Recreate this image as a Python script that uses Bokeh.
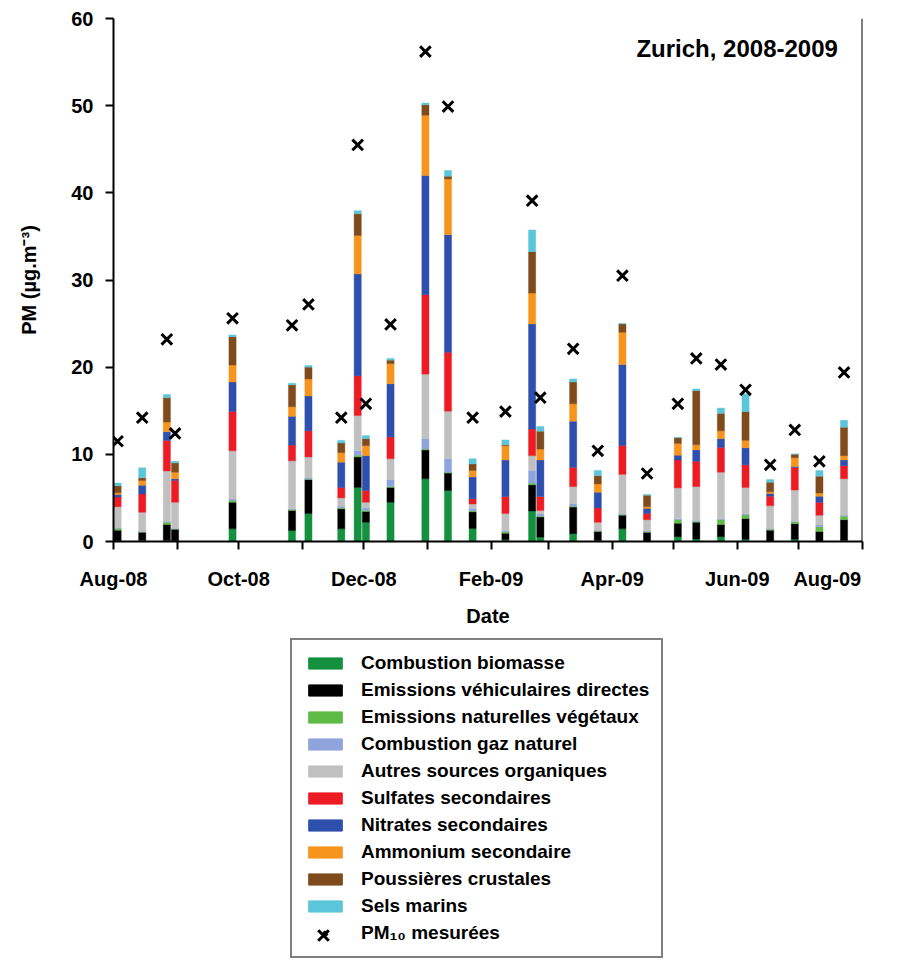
import pandas as pd
from bokeh.plotting import figure
from bokeh.layouts import column
from bokeh.models import (ColumnDataSource, FixedTicker, Legend, LegendItem, Label,
                          Range1d, Span)
from bokeh.embed import file_html
from bokeh.resources import INLINE

# ---------------- data ----------------
dates = ["2008-08-03", "2008-08-15", "2008-08-27", "2008-08-31", "2008-09-28",
         "2008-10-27", "2008-11-04", "2008-11-20", "2008-11-28", "2008-12-02",
         "2008-12-14", "2008-12-31", "2009-01-11", "2009-01-23", "2009-02-08",
         "2009-02-21", "2009-02-25", "2009-03-13", "2009-03-25", "2009-04-06",
         "2009-04-18", "2009-05-03", "2009-05-12", "2009-05-24", "2009-06-05",
         "2009-06-17", "2009-06-29", "2009-07-11", "2009-07-23"]

combustion_biomasse = [0.1, 0.15, 0.15, 0.1, 1.45, 1.26, 3.2, 1.45, 6.2, 2.2, 4.5, 7.2, 5.85, 1.5, 0.2,
                       3.5, 0.5, 0.9, 0.15, 1.45, 0.05, 0.55, 0.3, 0.55, 0.25, 0.05, 0.25, 0.05, 0.15]
emissions_vehiculaires = [1.2, 0.9, 1.8, 1.3, 3.05, 2.3, 3.9, 2.3, 3.5, 1.25, 1.7, 3.3, 2.0, 1.9, 0.75,
                          3.0, 2.3, 3.05, 1.0, 1.55, 1.0, 1.55, 1.9, 1.4, 2.4, 1.25, 1.8, 1.1, 2.35]
emissions_vegetaux = [0.2, 0.05, 0.25, 0.05, 0.2, 0.1, 0.05, 0.1, 0.2, 0.1, 0.1, 0.1, 0.1, 0.1, 0.15,
                      0.2, 0.1, 0.1, 0.05, 0.1, 0.05, 0.4, 0.1, 0.55, 0.4, 0.1, 0.2, 0.55, 0.4]
combustion_gaz = [0.1, 0.05, 0.1, 0.05, 0.2, 0.1, 0.15, 0.2, 0.5, 0.3, 0.8, 1.2, 1.55, 0.3, 0.1,
                  1.45, 0.25, 0.3, 0.1, 0.1, 0.1, 0.1, 0.1, 0.1, 0.1, 0.1, 0.05, 0.2, 0.1]
autres_organiques = [2.4, 2.2, 5.8, 3.0, 5.5, 5.5, 2.4, 0.95, 4.05, 0.65, 2.4, 7.4, 5.45, 0.5, 2.0,
                     1.7, 0.4, 1.95, 0.9, 4.5, 1.3, 3.55, 3.9, 5.35, 3.05, 2.6, 3.6, 1.1, 4.2]
sulfates = [1.1, 2.1, 3.5, 2.5, 4.5, 1.8, 3.0, 1.2, 4.55, 1.35, 2.5, 9.1, 6.75, 0.6, 1.95,
            3.05, 1.6, 2.2, 1.65, 3.3, 0.7, 3.2, 2.9, 2.85, 2.6, 1.1, 2.6, 1.5, 1.5]
nitrates = [0.3, 1.0, 1.0, 0.2, 3.4, 3.3, 4.0, 2.9, 11.7, 4.0, 6.1, 13.7, 13.5, 2.5, 4.2,
            12.05, 4.2, 5.3, 1.8, 9.3, 0.6, 0.55, 1.3, 1.0, 1.95, 0.3, 0.1, 0.7, 0.65]
ammonium = [0.2, 0.55, 1.1, 0.75, 1.95, 1.1, 1.95, 1.1, 4.4, 1.15, 2.3, 6.9, 6.4, 0.75, 1.65,
            3.55, 1.25, 2.0, 0.95, 3.7, 0.2, 1.35, 0.6, 0.9, 0.85, 0.2, 1.0, 0.35, 0.5]
poussieres = [0.8, 0.3, 2.8, 1.05, 3.25, 2.5, 1.35, 1.1, 2.5, 0.8, 0.4, 1.2, 0.3, 0.75, 0.1,
              4.75, 2.05, 2.5, 0.95, 0.95, 1.3, 0.65, 6.2, 2.0, 3.3, 1.1, 0.4, 1.95, 3.25]
sels_marins = [0.3, 1.15, 0.35, 0.2, 0.2, 0.2, 0.2, 0.3, 0.35, 0.35, 0.2, 0.2, 0.65, 0.6, 0.55,
               2.5, 0.55, 0.35, 0.6, 0.05, 0.1, 0.05, 0.2, 0.6, 2.05, 0.3, 0.05, 0.65, 0.8]
pm10 = [11.5, 14.2, 23.2, 12.4, 25.6, 24.8, 27.2, 14.2, 45.5, 15.8, 24.9, 56.2, 49.9, 14.2, 14.9,
        39.1, 16.5, 22.1, 10.4, 30.5, 7.8, 15.8, 21.0, 20.3, 17.4, 8.8, 12.8, 9.2, 19.4]

source_names = ["Combustion biomasse", "Emissions véhiculaires directes",
                "Emissions naturelles végétaux", "Combustion gaz naturel",
                "Autres sources organiques", "Sulfates secondaires",
                "Nitrates secondaires", "Ammonium secondaire",
                "Poussières crustales", "Sels marins"]
source_colors = ["#14903f", "#000000", "#5dbb46", "#8fa3dc", "#c0c0c0",
                 "#ed1c24", "#2e4fad", "#f7941d", "#7f4a1c", "#5bc6da"]
marker_label = "PM\u2081\u2080 mesurées"

month_starts = ["2008-08-01", "2008-09-01", "2008-10-01", "2008-11-01", "2008-12-01",
                "2009-01-01", "2009-02-01", "2009-03-01", "2009-04-01", "2009-05-01",
                "2009-06-01", "2009-07-01", "2009-08-01"]
major_labels = ["Aug-08", "Oct-08", "Dec-08", "Feb-09", "Apr-09", "Jun-09", "Aug-09"]
y_ticks = [0, 10, 20, 30, 40, 50, 60]
title_text = "Zurich, 2008-2009"

# ---------------- build ----------------
origin = pd.Timestamp("2008-08-01")
def day(s):
    return float((pd.Timestamp(s) - origin).days)

xdays = [day(d) for d in dates]
mdays = [day(d) for d in month_starts]
major_days = mdays[::2]
minor_days = mdays[1::2]

keys = ["c%d" % i for i in range(len(source_names))]
series = [combustion_biomasse, emissions_vehiculaires, emissions_vegetaux, combustion_gaz,
          autres_organiques, sulfates, nitrates, ammonium, poussieres, sels_marins]
data = {"x": xdays, "pm10": pm10}
for k, s in zip(keys, series):
    data[k] = s
src = ColumnDataSource(data)

FONT = "Liberation Sans"
W_LEFT, W_FRAME, W_RIGHT = 113, 749, 32

p = figure(frame_width=W_FRAME, frame_height=523,
           x_range=Range1d(mdays[0], mdays[-1]), y_range=Range1d(0, 60),
           output_backend="svg", toolbar_location=None,
           min_border_left=W_LEFT, min_border_top=18, min_border_right=W_RIGHT,
           min_border_bottom=95)
p.outline_line_color = None
p.xgrid.visible = False
p.ygrid.visible = False

p.vbar_stack(keys, x="x", width=3.5, source=src,
             fill_color=source_colors, line_color=source_colors, line_width=0.4)
p.scatter("x", "pm10", source=src, marker="x", size=15, line_width=3,
          line_color="black")

for ax in (p.xaxis[0], p.yaxis[0]):
    ax.axis_line_width = 2
    ax.axis_line_color = "black"
    ax.major_tick_line_width = 2
    ax.major_tick_line_color = "black"
    ax.major_tick_in = 0
    ax.major_tick_out = 8
    ax.major_label_text_font = FONT
    ax.major_label_text_font_style = "bold"
    ax.major_label_text_font_size = "20px"
    ax.major_label_text_color = "black"
    ax.axis_label_text_font = FONT
    ax.axis_label_text_font_style = "bold"
    ax.axis_label_text_font_size = "20px"
    ax.axis_label_text_color = "black"

p.yaxis.ticker = FixedTicker(ticks=y_ticks)
p.yaxis.minor_tick_line_color = None
p.yaxis.major_label_standoff = 12
p.yaxis.axis_label = "PM (µg.m\u207b\u00b3)"
p.yaxis.axis_label_standoff = 28

p.xaxis.ticker = FixedTicker(ticks=major_days, minor_ticks=minor_days)
p.xaxis.minor_tick_in = 0
p.xaxis.minor_tick_out = 8
p.xaxis.minor_tick_line_width = 2
p.xaxis.minor_tick_line_color = "black"
overrides = {d: lab for d, lab in zip(major_days, major_labels)}
# last label sits left of its tick, as in the original
overrides[major_days[-1]] = major_labels[-1] + "\u00a0" * 6
p.xaxis.major_label_overrides = overrides
p.xaxis.major_label_standoff = 18
p.xaxis.axis_label = "Date"
p.xaxis.axis_label_standoff = 12

p.add_layout(Span(location=mdays[-1], dimension="height", line_color="black", line_width=2))

p.add_layout(Label(x=mdays[-1] - 12, y=56.6, text=title_text, text_align="right",
                   text_baseline="alphabetic", text_font=FONT, text_font_style="bold",
                   text_font_size="24px", text_color="black"))

# ---------------- legend (separate canvas below the chart) ----------------
# its frame is aligned with the chart frame; coordinates below are frame pixels
LEG_H = 328
p2 = figure(frame_width=W_FRAME, frame_height=LEG_H,
            x_range=Range1d(0, W_FRAME), y_range=Range1d(0, LEG_H),
            output_backend="svg", toolbar_location=None,
            x_axis_location=None, y_axis_location=None,
            min_border_left=W_LEFT, min_border_right=W_RIGHT,
            min_border_top=0, min_border_bottom=0)
p2.outline_line_color = None
p2.xgrid.visible = False
p2.ygrid.visible = False

LEG_LEFT, LEG_TOP, PAD, ROW_H, GAP, GW, GH = 290 - W_LEFT, 6, 12, 22, 5, 42, 14
n_rows = len(source_names) + 1
leg_height = 2 * PAD + n_rows * ROW_H + (n_rows - 1) * GAP

nan_src = ColumnDataSource({"x": [float("nan")], "y": [float("nan")]})
items = []
for name, col in zip(source_names, source_colors):
    r = p2.vbar(x="x", top="y", width=1, source=nan_src, fill_color=col, line_color=col)
    items.append(LegendItem(label=name, renderers=[r]))

# full-size cross drawn on the swatch of the last legend row
mark_x = LEG_LEFT + PAD + GW / 2
mark_y = LEG_H - (LEG_TOP + PAD + (n_rows - 1) * (ROW_H + GAP) + ROW_H / 2)
mark_src = ColumnDataSource({"x": [mark_x], "y": [mark_y]})
rm = p2.scatter(x="x", y="y", source=mark_src, marker="x", size=15, line_width=3,
                line_color="black")
items.append(LegendItem(label=marker_label, renderers=[rm]))

legend = Legend(items=items, location=(LEG_LEFT, LEG_H - LEG_TOP - leg_height),
                orientation="vertical",
                border_line_color="black", border_line_width=2,
                background_fill_alpha=0,
                label_text_font=FONT, label_text_font_style="bold",
                label_text_font_size="19px", label_text_color="black",
                glyph_width=GW, glyph_height=GH, label_height=ROW_H, label_standoff=15,
                spacing=GAP, padding=PAD, margin=0)
p2.add_layout(legend)

open("out.html", "w").write(file_html(column(p, p2, spacing=0), INLINE))
